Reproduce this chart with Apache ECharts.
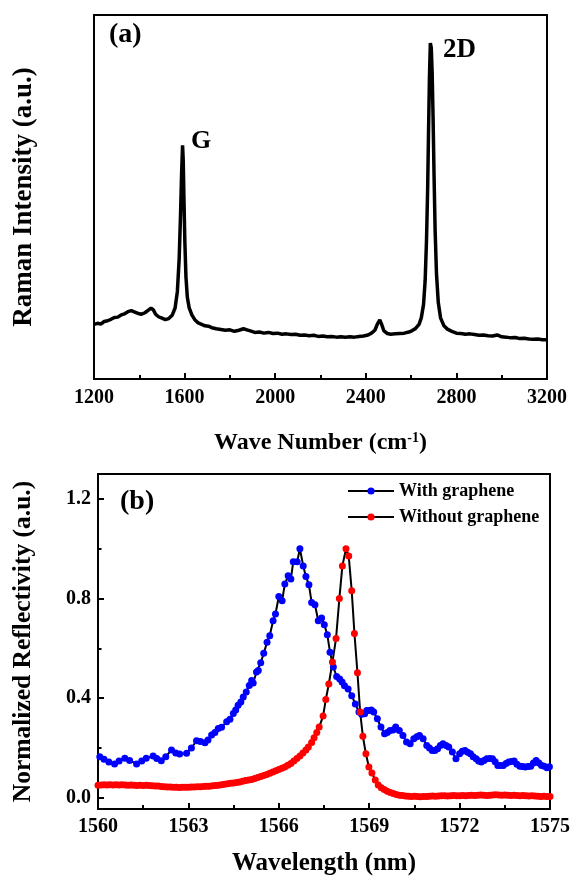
<!DOCTYPE html>
<html>
<head>
<meta charset="utf-8">
<script src="https://cdn.jsdelivr.net/npm/echarts@6/dist/echarts.min.js"></script>
<style>
html, body { margin: 0; padding: 0; background: #fff; }
#chart { width: 572px; height: 879px; }
</style>
</head>
<body>
<div id="chart"></div>
<script>
// (a) Raman spectrum: [wave number, intensity a.u.]
var ramanSpectrum = [
  [1200,15.0],[1215,15.3],[1230,15.1],[1245,15.8],[1260,16.0],[1275,16.4],[1290,16.9],[1305,17.0],
  [1320,17.6],[1335,17.9],[1350,18.5],[1365,18.8],[1380,18.4],[1395,18.0],[1410,17.8],[1425,18.2],
  [1440,18.9],[1452,19.5],[1462,19.0],[1472,17.8],[1485,17.1],[1500,16.7],[1515,16.3],[1530,16.6],
  [1545,17.5],[1558,19.5],[1568,24.0],[1576,33.0],[1582,45.0],[1587,57.0],[1591,64.2],[1594,60.0],
  [1597,50.0],[1601,38.0],[1606,28.0],[1612,22.5],[1620,19.6],[1632,17.6],[1645,16.3],[1660,15.4],
  [1675,15.0],[1690,14.6],[1705,14.5],[1720,14.1],[1740,13.8],[1760,13.6],[1780,13.4],[1800,13.5],
  [1820,13.1],[1840,13.4],[1860,13.8],[1875,13.5],[1890,13.2],[1910,12.8],[1930,12.9],[1950,12.6],
  [1970,12.8],[1990,12.5],[2010,12.6],[2030,12.3],[2050,12.4],[2070,12.2],[2090,12.3],[2110,12.0],
  [2130,12.1],[2150,11.9],[2170,12.0],[2190,11.7],[2210,11.8],[2230,11.6],[2250,11.7],[2270,11.5],
  [2290,11.6],[2310,11.5],[2330,11.6],[2350,11.5],[2370,11.7],[2390,11.8],[2410,12.1],[2425,12.6],
  [2440,13.4],[2452,15.2],[2462,16.2],[2470,15.0],[2480,13.2],[2495,12.5],[2510,12.3],[2530,12.4],
  [2550,12.5],[2570,12.6],[2590,12.9],[2605,13.3],[2620,13.9],[2635,15.0],[2645,16.8],[2655,20.5],
  [2662,27.0],[2668,38.0],[2673,52.0],[2677,68.0],[2681,83.0],[2685,92.3],[2689,91.0],[2693,84.0],
  [2697,72.0],[2701,57.0],[2706,41.0],[2712,29.0],[2720,21.0],[2730,16.8],[2745,14.6],[2760,13.7],
  [2780,13.1],[2800,12.6],[2820,12.5],[2840,12.3],[2860,12.4],[2880,12.2],[2900,12.0],[2920,12.1],
  [2940,11.9],[2960,11.8],[2980,12.1],[3000,11.6],[3020,11.5],[3040,11.3],[3060,11.4],[3080,11.1],
  [3100,11.2],[3120,11.0],[3140,10.9],[3160,11.0],[3180,10.8],[3200,10.8]
];

// (b) reflectivity: [wavelength nm, normalized reflectivity]
var withGraphene = [
  [1560.06,0.165],[1560.2,0.155],[1560.36,0.144],[1560.55,0.136],[1560.7,0.148],[1560.89,0.159],
  [1561.05,0.150],[1561.28,0.136],[1561.45,0.148],[1561.6,0.159],[1561.83,0.168],[1561.95,0.158],
  [1562.1,0.149],[1562.25,0.165],[1562.44,0.192],[1562.58,0.180],[1562.71,0.176],[1562.94,0.179],
  [1563.1,0.200],[1563.27,0.229],[1563.4,0.226],[1563.55,0.221],[1563.65,0.232],[1563.77,0.252],
  [1563.88,0.262],[1563.99,0.278],[1564.1,0.283],[1564.27,0.305],[1564.38,0.315],[1564.49,0.338],
  [1564.57,0.352],[1564.65,0.372],[1564.74,0.385],[1564.82,0.405],[1564.92,0.425],[1565.02,0.451],
  [1565.1,0.471],[1565.15,0.461],[1565.26,0.505],[1565.32,0.511],[1565.4,0.542],[1565.5,0.580],
  [1565.61,0.624],[1565.7,0.651],[1565.81,0.711],[1565.89,0.738],[1566.0,0.808],[1566.11,0.791],
  [1566.2,0.858],[1566.31,0.891],[1566.4,0.878],[1566.48,0.948],[1566.61,0.948],[1566.70,1.0],
  [1566.81,0.931],[1566.90,0.888],[1567.0,0.855],[1567.09,0.784],[1567.2,0.775],[1567.31,0.711],
  [1567.42,0.722],[1567.51,0.695],[1567.61,0.655],[1567.70,0.584],[1567.81,0.525],[1567.92,0.487],
  [1568.02,0.477],[1568.1,0.465],[1568.18,0.450],[1568.3,0.437],[1568.42,0.410],[1568.54,0.377],
  [1568.66,0.344],[1568.75,0.335],[1568.85,0.337],[1568.92,0.350],[1568.99,0.350],[1569.07,0.352],
  [1569.15,0.344],[1569.27,0.317],[1569.39,0.284],[1569.51,0.257],[1569.6,0.262],[1569.69,0.270],
  [1569.79,0.272],[1569.88,0.284],[1570.0,0.270],[1570.12,0.250],[1570.24,0.224],[1570.36,0.217],
  [1570.48,0.237],[1570.58,0.245],[1570.67,0.250],[1570.79,0.237],[1570.91,0.210],[1571.0,0.200],
  [1571.09,0.190],[1571.18,0.190],[1571.27,0.197],[1571.36,0.210],[1571.45,0.217],[1571.55,0.210],
  [1571.64,0.204],[1571.76,0.184],[1571.88,0.157],[1572.0,0.177],[1572.09,0.187],[1572.18,0.190],
  [1572.27,0.183],[1572.36,0.177],[1572.45,0.165],[1572.55,0.157],[1572.63,0.148],[1572.72,0.144],
  [1572.81,0.150],[1572.9,0.157],[1573.0,0.158],[1573.09,0.157],[1573.18,0.145],[1573.27,0.130],
  [1573.36,0.130],[1573.45,0.130],[1573.54,0.138],[1573.63,0.144],[1573.72,0.146],[1573.81,0.148],
  [1573.9,0.135],[1574.0,0.127],[1574.09,0.126],[1574.18,0.124],[1574.27,0.126],[1574.36,0.127],
  [1574.45,0.140],[1574.54,0.150],[1574.63,0.140],[1574.72,0.130],[1574.81,0.127],[1574.9,0.121],
  [1574.98,0.125]
];

var withoutGraphene = [
  [1560.0,0.050],[1560.1,0.051],[1560.2,0.052],[1560.3,0.051],[1560.4,0.052],[1560.5,0.051],
  [1560.6,0.052],[1560.7,0.051],[1560.8,0.052],[1560.9,0.051],[1561.0,0.050],[1561.1,0.051],
  [1561.2,0.050],[1561.3,0.049],[1561.4,0.050],[1561.5,0.049],[1561.6,0.050],[1561.7,0.049],
  [1561.8,0.048],[1561.9,0.047],[1562.0,0.047],[1562.1,0.045],[1562.2,0.044],[1562.3,0.043],
  [1562.4,0.043],[1562.5,0.042],[1562.6,0.042],[1562.7,0.041],[1562.8,0.042],[1562.9,0.042],
  [1563.0,0.042],[1563.1,0.043],[1563.2,0.043],[1563.3,0.044],[1563.4,0.044],[1563.5,0.045],
  [1563.6,0.046],[1563.7,0.046],[1563.8,0.048],[1563.9,0.049],[1564.0,0.050],[1564.1,0.052],
  [1564.2,0.054],[1564.3,0.056],[1564.4,0.058],[1564.5,0.059],[1564.6,0.061],[1564.7,0.063],
  [1564.8,0.066],[1564.9,0.069],[1565.0,0.071],[1565.1,0.073],[1565.2,0.077],[1565.3,0.081],
  [1565.4,0.085],[1565.5,0.089],[1565.6,0.094],[1565.7,0.099],[1565.8,0.104],[1565.9,0.109],
  [1566.0,0.114],[1566.1,0.119],[1566.2,0.124],[1566.3,0.131],[1566.4,0.138],[1566.5,0.148],
  [1566.6,0.158],[1566.7,0.168],[1566.8,0.180],[1566.9,0.192],[1566.98,0.204],[1567.09,0.222],
  [1567.17,0.241],[1567.26,0.262],[1567.34,0.284],[1567.47,0.328],[1567.56,0.395],[1567.66,0.457],
  [1567.78,0.545],[1567.9,0.640],[1568.01,0.800],[1568.11,0.931],[1568.23,1.0],[1568.32,0.971],
  [1568.42,0.831],[1568.51,0.660],[1568.61,0.502],[1568.70,0.344],[1568.79,0.247],[1568.89,0.177],
  [1568.99,0.124],[1569.09,0.100],[1569.2,0.071],[1569.3,0.051],[1569.4,0.040],[1569.5,0.033],
  [1569.6,0.026],[1569.7,0.021],[1569.8,0.017],[1569.9,0.013],[1570.0,0.010],[1570.1,0.009],
  [1570.2,0.007],[1570.3,0.006],[1570.4,0.005],[1570.5,0.006],[1570.6,0.005],[1570.7,0.004],
  [1570.8,0.005],[1570.9,0.005],[1571.0,0.006],[1571.1,0.007],[1571.2,0.006],[1571.3,0.007],
  [1571.4,0.008],[1571.5,0.008],[1571.6,0.007],[1571.7,0.008],[1571.8,0.009],[1571.9,0.008],
  [1572.0,0.008],[1572.1,0.009],[1572.2,0.008],[1572.3,0.009],[1572.4,0.010],[1572.5,0.009],
  [1572.6,0.010],[1572.7,0.011],[1572.8,0.010],[1572.9,0.009],[1573.0,0.010],[1573.1,0.011],
  [1573.2,0.012],[1573.3,0.011],[1573.4,0.010],[1573.5,0.011],[1573.6,0.010],[1573.7,0.009],
  [1573.8,0.010],[1573.9,0.009],[1574.0,0.008],[1574.1,0.009],[1574.2,0.008],[1574.3,0.007],
  [1574.4,0.008],[1574.5,0.007],[1574.6,0.006],[1574.7,0.005],[1574.8,0.006],[1574.9,0.005],
  [1575.0,0.005]
];

var reflLabelTicks = [0, 0.4, 0.8, 1.2];
var reflMinorTicks = [0.2, 0.6, 1.0];

var FONT = 'Liberation Serif';
var black = '#000';

function boldText(size) {
  return { fontFamily: FONT, fontWeight: 'bold', fontSize: size, color: black };
}
function plainNumber(v) { return String(v); }

var chart = echarts.init(document.getElementById('chart'), null, {renderer: 'canvas'});

var option = {
  animation: false,
  backgroundColor: '#fff',
  textStyle: { fontFamily: FONT },
  grid: [
    { left: 94, right: 25, top: 15, height: 364, show: true, borderColor: black, borderWidth: 2,
      outerBoundsMode: 'none' },
    { left: 98, right: 22, top: 474, height: 335, show: true, borderColor: black, borderWidth: 2,
      outerBoundsMode: 'none' }
  ],
  legend: {
    data: ['With graphene', 'Without graphene'],
    orient: 'vertical',
    left: 347,
    top: 482,
    padding: 0,
    itemWidth: 46,
    itemHeight: 9,
    itemGap: 8,
    textStyle: boldText(18)
  },
  xAxis: [
    {
      gridIndex: 0, type: 'value', min: 1200, max: 3200, interval: 400,
      axisLine: { onZero: false, lineStyle: { color: black, width: 2 } },
      axisTick: { inside: true, length: 6, lineStyle: { color: black, width: 2 } },
      minorTick: { show: true, splitNumber: 2, length: 4, lineStyle: { color: black, width: 2 } },
      splitLine: { show: false },
      axisLabel: Object.assign({ margin: 9, formatter: plainNumber }, boldText(20)),
      name: '{a|Wave Number (cm}{s|-1}{a|)}',
      nameLocation: 'middle',
      nameGap: 52,
      nameTextStyle: {
        rich: {
          a: boldText(24),
          s: Object.assign({ verticalAlign: 'top', padding: [0, 0, 10, 0] }, boldText(14))
        }
      }
    },
    {
      gridIndex: 1, type: 'value', min: 1560, max: 1575, interval: 3,
      axisLine: { onZero: false, lineStyle: { color: black, width: 2 } },
      axisTick: { inside: true, length: 6, lineStyle: { color: black, width: 2 } },
      minorTick: { show: true, splitNumber: 2, length: 4, lineStyle: { color: black, width: 2 } },
      splitLine: { show: false },
      axisLabel: Object.assign({ margin: 8, formatter: plainNumber }, boldText(20)),
      name: 'Wavelength (nm)',
      nameLocation: 'middle',
      nameGap: 42,
      nameTextStyle: boldText(25)
    }
  ],
  yAxis: [
    {
      gridIndex: 0, type: 'value', min: 0, max: 100,
      axisLine: { show: true, onZero: false, lineStyle: { color: black, width: 2 } },
      axisTick: { show: false },
      axisLabel: { show: false },
      splitLine: { show: false },
      name: 'Raman Intensity (a.u.)',
      nameLocation: 'middle',
      nameGap: 56,
      nameTextStyle: boldText(27)
    },
    {
      gridIndex: 1, type: 'value', min: -0.045, max: 1.3, position: 'left',
      axisLine: { show: true, onZero: false, lineStyle: { color: black, width: 2 } },
      axisTick: { show: true, inside: true, length: 6, customValues: reflLabelTicks,
        lineStyle: { color: black, width: 2 } },
      axisLabel: Object.assign({
        margin: 7, customValues: reflLabelTicks,
        formatter: function (v) { return v.toFixed(1); }
      }, boldText(20)),
      splitLine: { show: false },
      name: 'Normalized Reflectivity (a.u.)',
      nameLocation: 'middle',
      nameGap: 62,
      nameTextStyle: boldText(25.5)
    },
    {
      gridIndex: 1, type: 'value', min: -0.045, max: 1.3, position: 'left', offset: 0,
      axisLine: { show: false, onZero: false },
      axisTick: { show: true, inside: true, length: 3.5, customValues: reflMinorTicks,
        lineStyle: { color: black, width: 2 } },
      axisLabel: { show: false, customValues: reflMinorTicks },
      splitLine: { show: false }
    }
  ],
  series: [
    {
      type: 'line', xAxisIndex: 0, yAxisIndex: 0,
      data: ramanSpectrum,
      showSymbol: false,
      lineStyle: { color: black, width: 3.5 },
      silent: true
    },
    {
      name: 'With graphene', type: 'line', xAxisIndex: 1, yAxisIndex: 1,
      data: withGraphene,
      symbol: 'circle', symbolSize: 7, showAllSymbol: true,
      itemStyle: { color: '#0000ff' },
      lineStyle: { color: black, width: 2 }
    },
    {
      name: 'Without graphene', type: 'line', xAxisIndex: 1, yAxisIndex: 1,
      data: withoutGraphene,
      symbol: 'circle', symbolSize: 7, showAllSymbol: true,
      itemStyle: { color: '#ff0000' },
      lineStyle: { color: black, width: 2 }
    }
  ],
  graphic: [
    { type: 'text', left: 109, top: 21, style: { text: '(a)', font: 'bold 28px "Liberation Serif"', fill: black } },
    { type: 'text', left: 191, top: 128, style: { text: 'G', font: 'bold 26px "Liberation Serif"', fill: black } },
    { type: 'text', left: 443, top: 37, style: { text: '2D', font: 'bold 27px "Liberation Serif"', fill: black } },
    { type: 'text', left: 120, top: 488, style: { text: '(b)', font: 'bold 28px "Liberation Serif"', fill: black } }
  ]
};

chart.setOption(option);
</script>
</body>
</html>
